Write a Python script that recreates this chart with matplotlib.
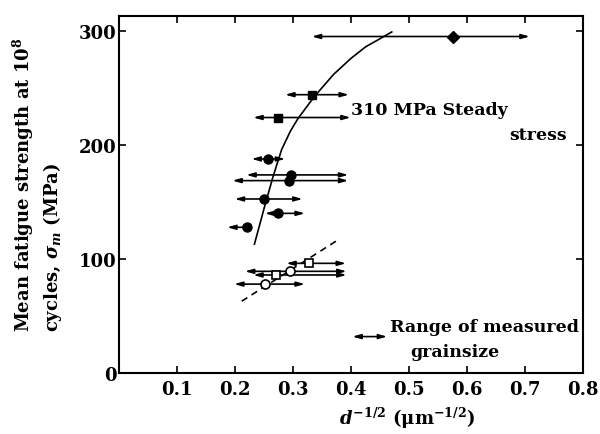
import matplotlib
matplotlib.use("Agg")
import matplotlib.pyplot as plt

# filled circles
fc_x = [0.257, 0.296, 0.292, 0.250, 0.273, 0.2205]
fc_y = [187.7, 173.7, 168.7, 152.6, 140.0, 127.8]
fc_lo = [0.228, 0.219, 0.195, 0.199, 0.251, 0.186]
fc_hi = [0.286, 0.395, 0.395, 0.316, 0.320, 0.231]

# filled squares
fs_x = [0.332, 0.274]
fs_y = [244.0, 224.0]
fs_lo = [0.286, 0.231]
fs_hi = [0.396, 0.399]

# filled diamond
fd_x = [0.576]
fd_y = [295.0]
fd_lo = [0.332]
fd_hi = [0.708]

# open circles
oc_x = [0.295, 0.251]
oc_y = [89.2, 78.0]
oc_lo = [0.2166, 0.198]
oc_hi = [0.392, 0.320]

# open squares
os_x = [0.327, 0.271]
os_y = [96.2, 86.0]
os_lo = [0.288, 0.231]
os_hi = [0.391, 0.392]

# trend curve (310 MPa steady stress) and dashed trend line
curve_x = [0.233, 0.250, 0.265, 0.280, 0.295, 0.308, 0.330, 0.346, 0.370, 0.400, 0.425, 0.446, 0.470]
curve_y = [113, 145, 172, 196, 212, 223, 238, 248, 262, 276, 286, 292, 299]
dash_x = [0.211, 0.378]
dash_y = [63, 117]

# legend arrow for measured grain size range
range_x = [0.402, 0.462]
range_y = 32

plt.rcParams['font.family'] = 'DejaVu Serif'
plt.rcParams['mathtext.fontset'] = 'dejavuserif'
plt.rcParams['font.weight'] = 'bold'
plt.rcParams['axes.labelweight'] = 'bold'

fig = plt.figure(figsize=(6, 4.35), dpi=100)
ax = fig.add_axes([0.199, 0.140, 0.7727, 0.821])

arrow = dict(arrowstyle='<|-|>,head_length=0.6,head_width=0.17', color='black',
             lw=1.2, shrinkA=0, shrinkB=0, mutation_scale=8)


def bars(xs, ys, lo, hi):
    for y, a, b in zip(ys, lo, hi):
        ax.annotate('', xy=(a, y), xytext=(b, y), arrowprops=arrow, zorder=2)


bars(fc_x, fc_y, fc_lo, fc_hi)
bars(fs_x, fs_y, fs_lo, fs_hi)
bars(fd_x, fd_y, fd_lo, fd_hi)
bars(oc_x, oc_y, oc_lo, oc_hi)
bars(os_x, os_y, os_lo, os_hi)

ax.plot(curve_x, curve_y, color='black', lw=1.2, zorder=1)
ax.plot(dash_x, dash_y, color='black', lw=1.2, ls=(0, (4, 3)), zorder=1)

ax.plot(fc_x, fc_y, 'o', color='black', ms=6.5, zorder=3)
ax.plot(fs_x, fs_y, 's', color='black', ms=6, zorder=3)
ax.plot(fd_x, fd_y, 'D', color='black', ms=6, zorder=3)
ax.plot(oc_x, oc_y, 'o', mfc='white', mec='black', mew=1.2, ms=6.5, zorder=3)
ax.plot(os_x, os_y, 's', mfc='white', mec='black', mew=1.2, ms=6, zorder=3)

ax.annotate('', xy=(range_x[0], range_y), xytext=(range_x[1], range_y), arrowprops=arrow)

ax.text(0.4, 231, '310 MPa Steady', fontsize=12.5, va='center', ha='left')
ax.text(0.772, 209, 'stress', fontsize=12.5, va='center', ha='right')
ax.text(0.467, 41, 'Range of measured', fontsize=12.5, va='center', ha='left')
ax.text(0.502, 19, 'grainsize', fontsize=12.5, va='center', ha='left')

ax.set_xlim(0, 0.8)
ax.set_ylim(0, 313)
ax.set_xticks([0.1, 0.2, 0.3, 0.4, 0.5, 0.6, 0.7, 0.8])
ax.set_xticklabels(['0.1', '0.2', '0.3', '0.4', '0.5', '0.6', '0.7', '0.8'])
ax.set_yticks([0, 100, 200, 300])
ax.tick_params(direction='in', top=True, right=True, labelsize=13, length=5, width=1.2)
ax.tick_params(axis='y', pad=2)
ax.tick_params(axis='x', pad=5)
for s in ax.spines.values():
    s.set_linewidth(1.5)

ax.set_xlabel(r'$d^{-1/2}$ ($\mathrm{\mu m}^{-1/2}$)', fontsize=13)
ax.xaxis.set_label_coords(0.62, -0.09)
ax.set_ylabel('Mean fatigue strength at 10$^8$\ncycles, $\\sigma_m$ (MPa)',
              fontsize=13, multialignment='left', linespacing=1.3)
ax.yaxis.set_label_coords(-0.12, 0.53)

fig.savefig('out.png', dpi=100)
